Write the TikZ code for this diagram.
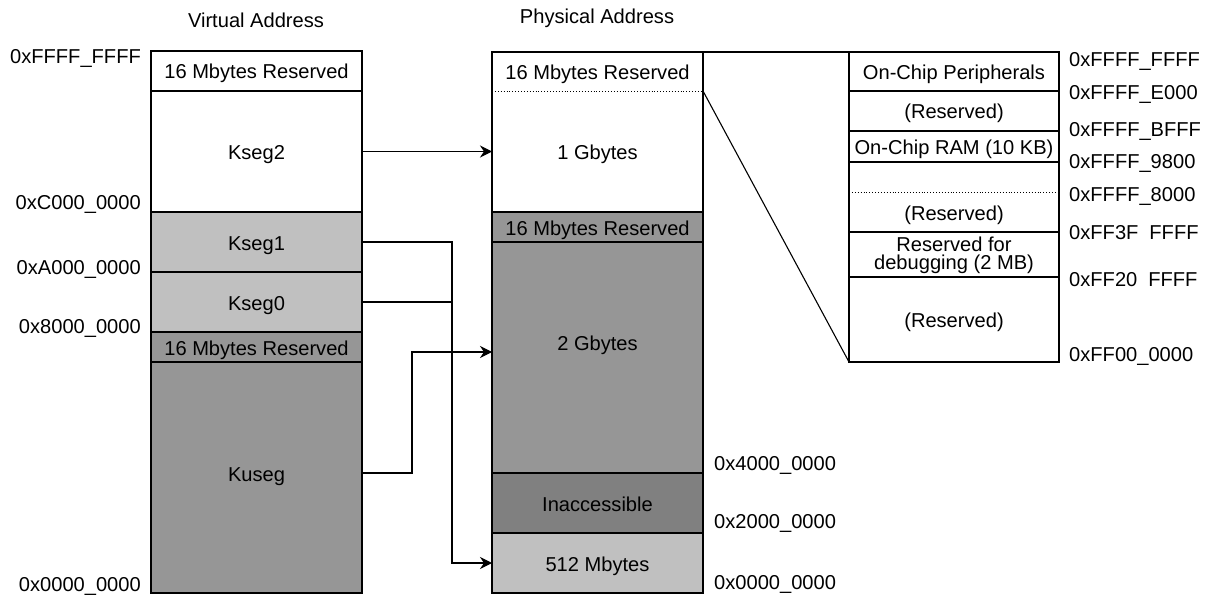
\documentclass[tikz,border=0pt]{standalone}
\usepackage{fontspec}
\setmainfont{Liberation Sans}
\usetikzlibrary{arrows.meta}
\definecolor{lightg}{RGB}{192,192,192}
\definecolor{midg}{RGB}{150,150,150}
\definecolor{darkg}{RGB}{128,128,128}
\newcommand\myfnt{\fontsize{20.1}{18}\selectfont}
\begin{document}
\begin{tikzpicture}[x=1pt,y=-1pt,
  lw/.style={line width=1.1pt},
  cell/.style={lw, draw=black, fill=white, inner sep=0pt, outer sep=0pt, font=\myfnt,
    text height=17pt, text depth=1pt},
  vcell/.style={cell, minimum width=211pt},
  pcell/.style={cell, minimum width=211pt},
  rcell/.style={cell, minimum width=210pt},
  txt/.style={inner sep=0pt, font=\myfnt, text height=17pt, text depth=1pt},
  addr/.style={txt},
  arr/.style={lw, -{Stealth[length=12pt,width=12pt,inset=4pt]}},
  conn/.style={lw}]
\useasboundingbox (0,0) rectangle (1206,596);

% titles
\node[txt] (vtitle) at (256,20) {Virtual Address};
\node[txt] (ptitle) at (597,16) {Physical Address};

% virtual column
\node[vcell, minimum height=40pt] (vres) at (256.5,71) {16 Mbytes Reserved};
\node[vcell, minimum height=121pt] (kseg2) at (256.5,151.5) {Kseg2};
\node[vcell, fill=lightg, minimum height=60pt] (kseg1) at (256.5,242) {Kseg1};
\node[vcell, fill=lightg, minimum height=60pt] (kseg0) at (256.5,302) {Kseg0};
\node[vcell, fill=midg, minimum height=30pt] (vres2) at (256.5,347) {16 Mbytes Reserved};
\node[vcell, fill=midg, minimum height=231pt] (kuseg) at (256.5,477.5) {};
\node[txt] (kusegt) at (256.5,473) {Kuseg};

% physical column
\node[pcell, draw=none, fill=none, minimum height=39pt] (pres) at (597.5,71.5) {16 Mbytes Reserved};
\node[pcell, draw=none, fill=none, minimum height=121pt] (p1g) at (597.5,151.5) {1 Gbytes};
\draw[lw] (pres.north west) rectangle (p1g.south east);
\draw[dotted, line width=0.9pt] (pres.south west) -- (pres.south east);
\node[pcell, fill=midg, minimum height=30pt] (pres2) at (597.5,227) {16 Mbytes Reserved};
\node[pcell, fill=midg, minimum height=231pt] (p2g) at (597.5,357.5) {};
\node[txt] (p2gt) at (597.5,342) {2 Gbytes};
\node[pcell, fill=darkg, minimum height=60pt] (pin) at (597.5,503) {Inaccessible};
\node[pcell, fill=lightg, minimum height=60pt] (p512) at (597.5,563) {512 Mbytes};

% right detail column
\node[rcell, minimum height=39pt] (r1) at (954,71.5) {On-Chip Peripherals};
\node[rcell, minimum height=40pt] (r2) at (954,111) {(Reserved)};
\node[rcell, minimum height=31pt] (r3) at (954,146.5) {On-Chip RAM (10 KB)};
\node[rcell, draw=none, fill=none, minimum height=30pt] (r4a) at (954,177) {};
\node[rcell, draw=none, fill=none, minimum height=40pt] (r4b) at (954,212) {(Reserved)};
\draw[lw] (r4a.north west) rectangle (r4b.south east);
\draw[dotted, line width=0.9pt] (r4a.south west) -- (r4a.south east);
\node[rcell, minimum height=45pt] (r5) at (954,254.5) {};
\node[inner sep=0pt, font=\myfnt, align=center] (r5t) at (954,255.5) {Reserved for\\debugging (2 MB)};
\node[rcell, minimum height=85pt] (r6) at (954,319.5) {(Reserved)};

% zoom connectors
\draw[lw] (pres.north east) -- (r1.north west);
\draw[lw] (pres.south east) -- (r6.south west);

% mapping arrows
\coordinate (jx) at (452,0);
\coordinate (kx) at (412,0);
\draw[arr] (kseg2.east) -- (p1g.west);
\draw[arr] (kseg1.east) -- (kseg1.east -| jx) |- (p512.west);
\draw[lw] (kseg0.east) -- (kseg0.east -| jx);
\draw[arr] ([yshift=4.5pt]kuseg.east) -- ([yshift=4.5pt]kuseg.east -| kx) |- ([yshift=5.5pt]p2g.west);

% virtual addresses
\node[addr, anchor=east] (va1) at (141,56) {0xFFFF\_FFFF};
\node[addr, anchor=east] (va2) at (141,201) {0xC000\_0000};
\node[addr, anchor=east] (va3) at (141,266) {0xA000\_0000};
\node[addr, anchor=east] (va4) at (141,325) {0x8000\_0000};
\node[addr, anchor=east] (va5) at (141,583) {0x0000\_0000};

% physical addresses
\node[addr, anchor=west] (pa1) at (714,462) {0x4000\_0000};
\node[addr, anchor=west] (pa2) at (714,520) {0x2000\_0000};
\node[addr, anchor=west] (pa3) at (714,581) {0x0000\_0000};

% detail addresses
\node[addr, anchor=west] (ra1) at (1069,59) {0xFFFF\_FFFF};
\node[addr, anchor=west] (ra2) at (1069,92) {0xFFFF\_E000};
\node[addr, anchor=west] (ra3) at (1069,129) {0xFFFF\_BFFF};
\node[addr, anchor=west] (ra4) at (1069,161) {0xFFFF\_9800};
\node[addr, anchor=west] (ra5) at (1069,193) {0xFFFF\_8000};
\node[addr, anchor=west] (ra6) at (1069,231) {0xFF3F\hspace{11pt}FFFF};
\node[addr, anchor=west] (ra7) at (1069,278) {0xFF20\hspace{11pt}FFFF};
\node[addr, anchor=west] (ra8) at (1069,353) {0xFF00\_0000};
\end{tikzpicture}
\end{document}
